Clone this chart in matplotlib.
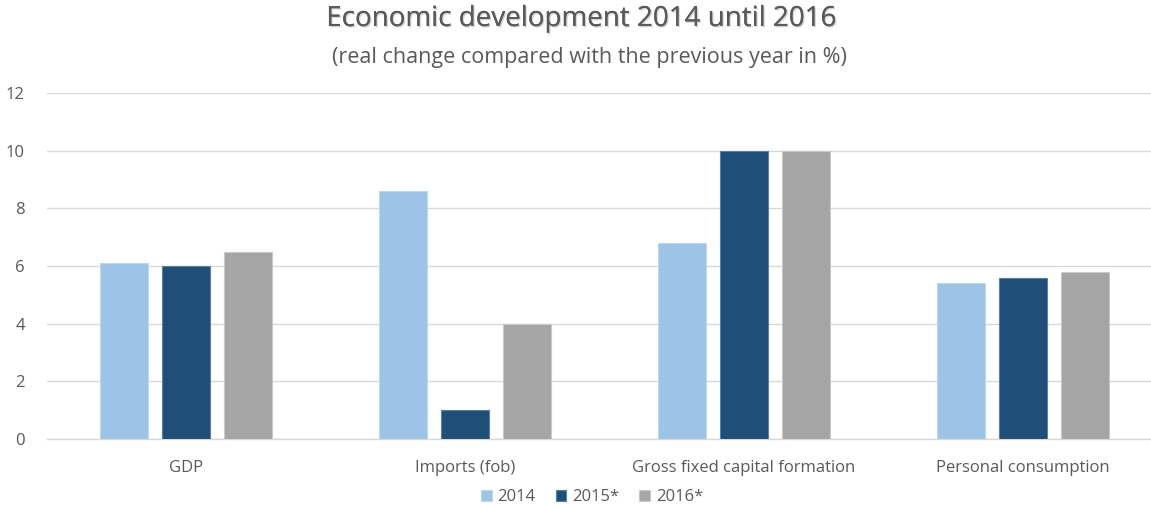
import matplotlib.pyplot as plt
import matplotlib.patheffects as pe
import numpy as np

## Data
categories = ["GDP", "Imports (fob)", "Gross fixed capital formation", "Personal consumption"]
series_names = ["2014", "2015*", "2016*"]
values_2014 = [6.1, 8.6, 6.8, 5.4]
values_2015 = [6.0, 1.0, 10.0, 5.6]
values_2016 = [6.5, 4.0, 10.0, 5.8]

colors = ["#9DC3E6", "#1F4E79", "#A5A5A5"]
edges = ["#BDD7EE", "#5B7FA6", "#C9C9C9"]
text_color = "#595959"

plt.rcParams['font.family'] = ['Open Sans', 'DejaVu Sans']

fig = plt.figure(figsize=(11.51, 5.08), dpi=100)
ax = fig.add_axes([47 / 1151, 69 / 508, 1115 / 1151, 346 / 508])

x = np.arange(len(categories))
width = 0.172
step = 0.2225
for i, vals in enumerate([values_2014, values_2015, values_2016]):
    ax.bar(x + (i - 1) * step, vals, width, color=colors[i], edgecolor=edges[i],
           linewidth=0.8, label=series_names[i], zorder=3)

ax.set_xlim(-0.5, len(categories) - 0.5)
ax.set_ylim(0, 12)
ax.set_yticks(np.arange(0, 13, 2))
ax.set_xticks(x)
ax.set_xticklabels(categories)
ax.tick_params(axis='both', length=0, colors=text_color, labelsize=12)
ax.tick_params(axis='x', pad=15)
ax.tick_params(axis='y', pad=16)
ax.grid(axis='y', color="#D9D9D9", linewidth=1, zorder=0)
for s in ["top", "right", "left"]:
    ax.spines[s].set_visible(False)
ax.spines["bottom"].set_color("#D9D9D9")
ax.spines["bottom"].set_linewidth(1)

## Titles
shadow = [pe.withSimplePatchShadow(offset=(1, -1), shadow_rgbFace="#BBBBBB", alpha=0.6), pe.Normal()]
fig.text(581 / 1151, 1 - 19 / 508, "Economic development 2014 until 2016", ha='center', va='center',
         fontsize=20, color=text_color, path_effects=shadow)
fig.text(589 / 1151, 1 - 58 / 508, "(real change compared with the previous year in %)", ha='center',
         va='center', fontsize=15.5, color=text_color)

fig.legend(loc='center', bbox_to_anchor=(592 / 1151, 1 - 497 / 508), ncol=3, frameon=False,
           fontsize=12, labelcolor=text_color, handlelength=0.65, handleheight=0.65,
           handletextpad=0.35, columnspacing=1.2)

plt.savefig("out.png", dpi=100)
